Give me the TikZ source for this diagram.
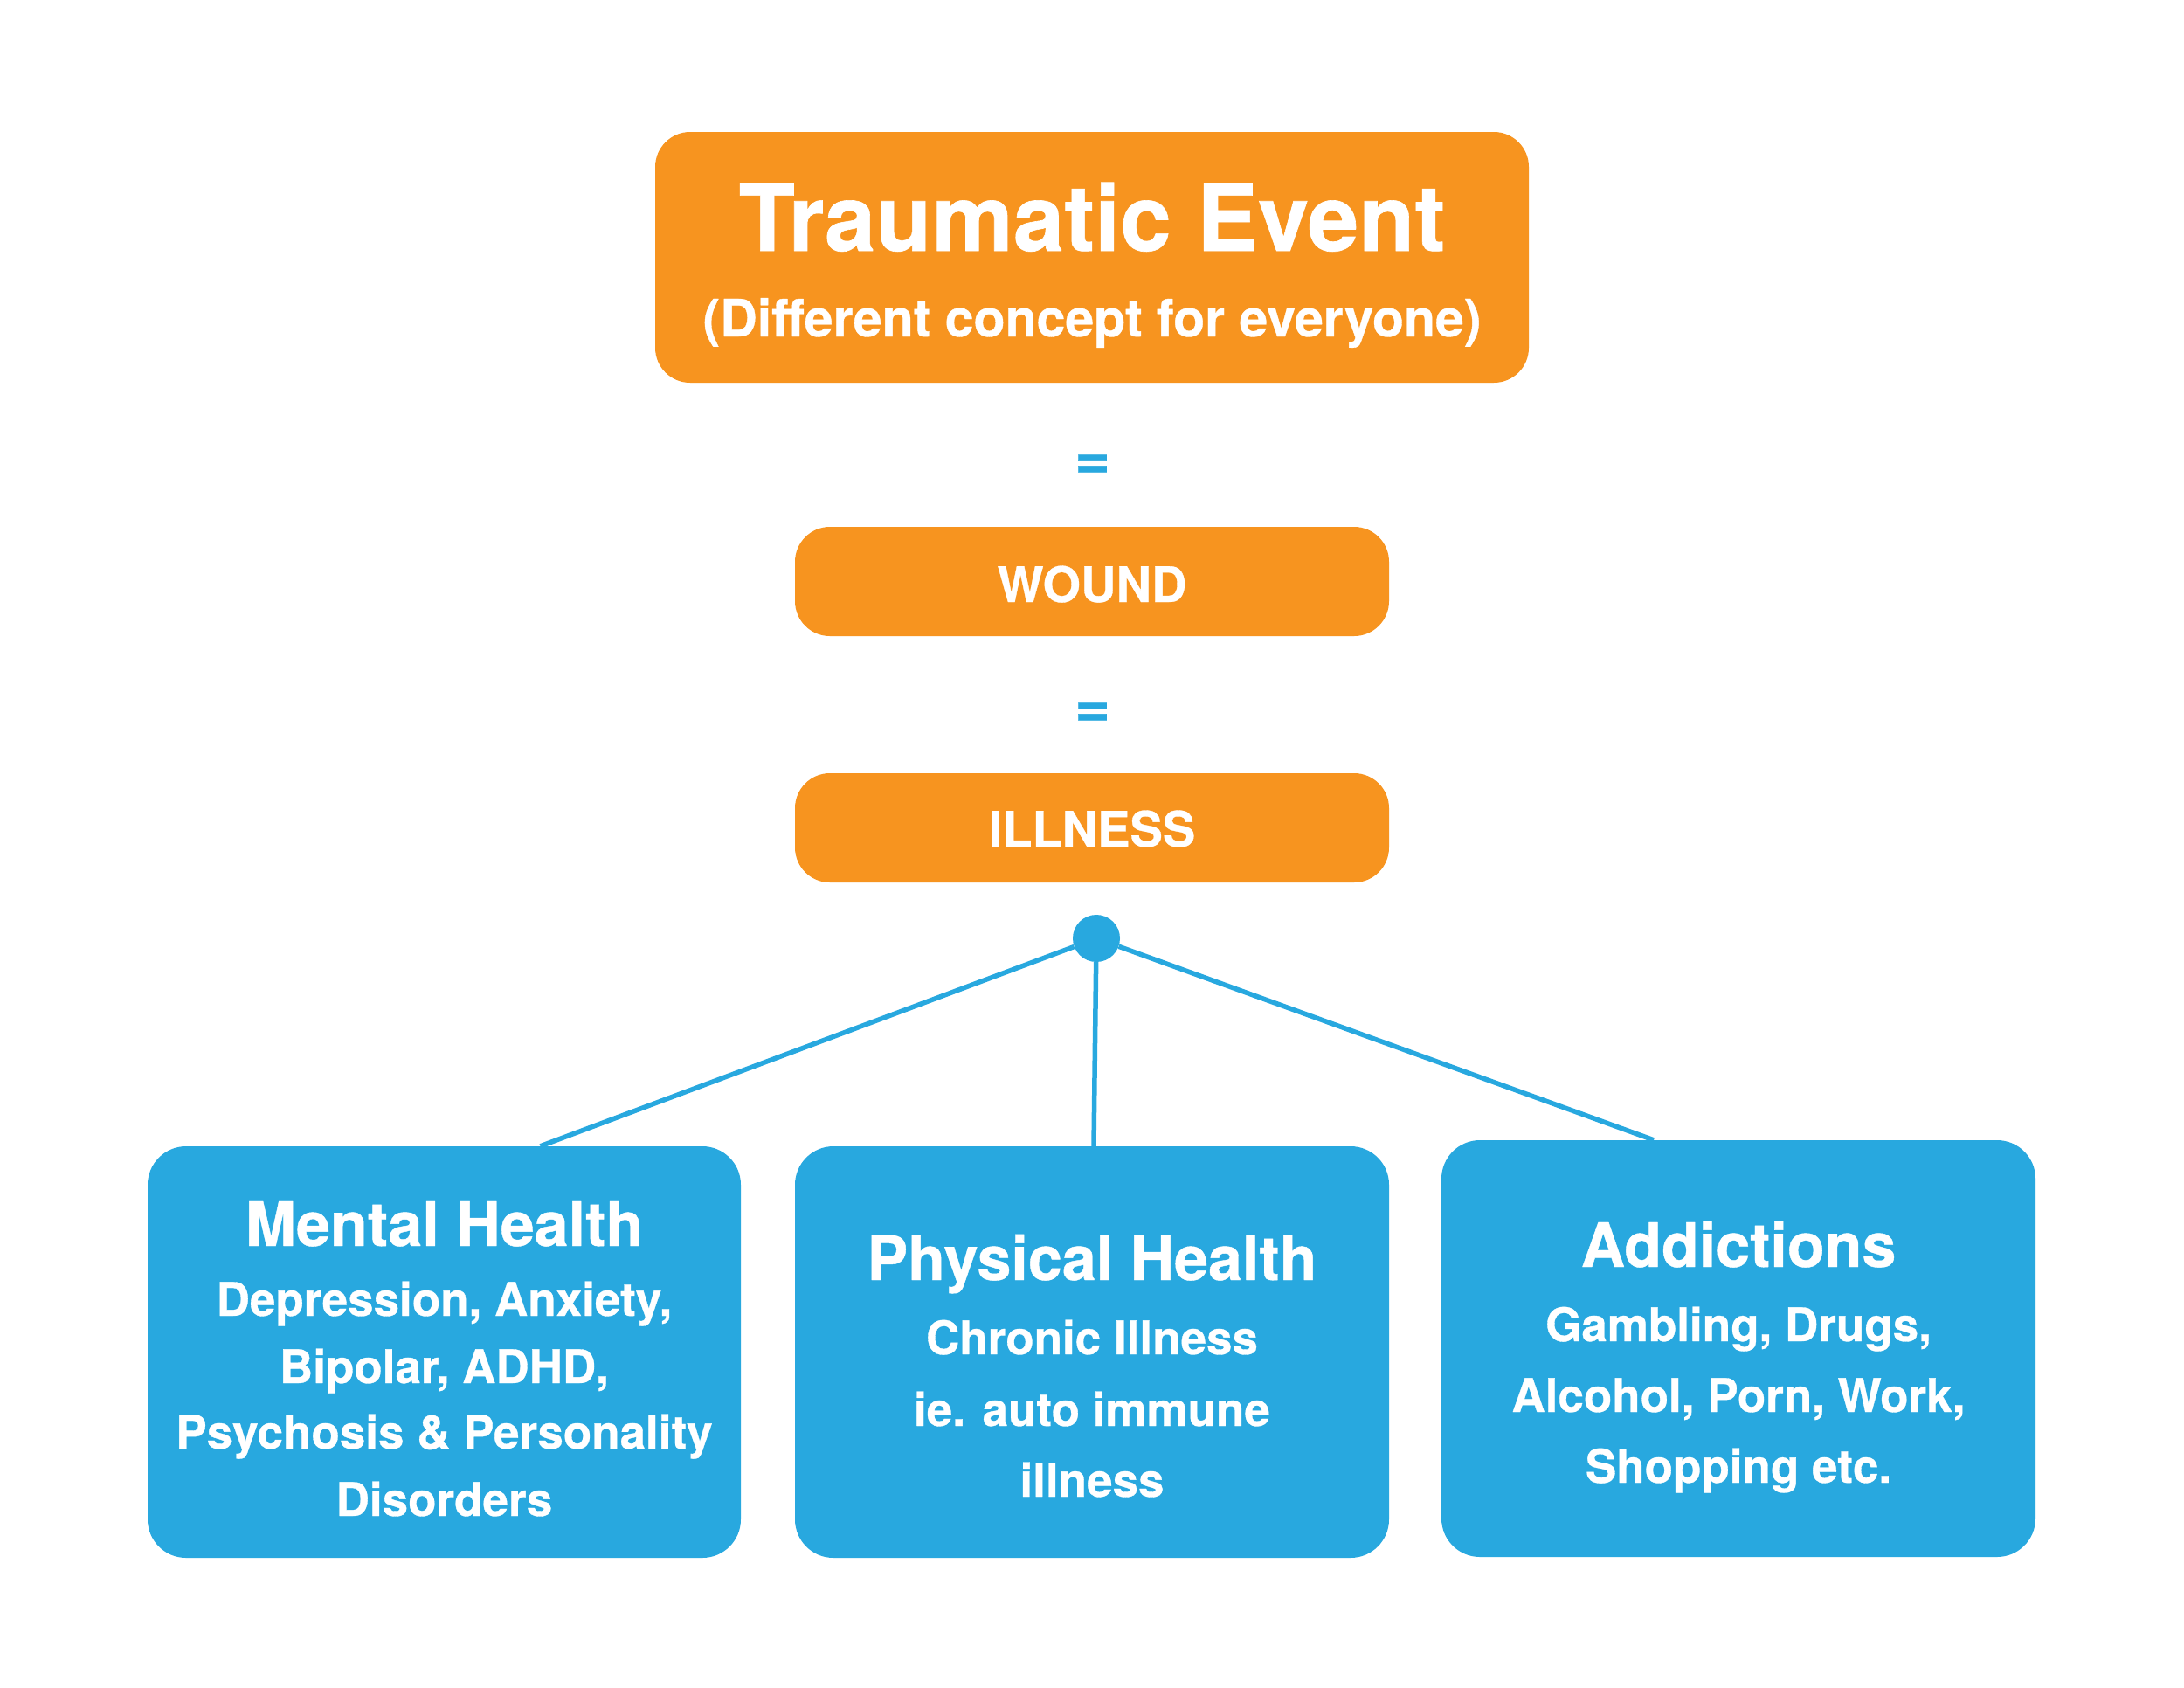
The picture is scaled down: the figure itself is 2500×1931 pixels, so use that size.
\documentclass[tikz,border=0pt]{standalone}
\usepackage{fontspec}
\setmainfont{TeX Gyre Heros}[BoldFeatures={FakeBold=0.6}]
\usetikzlibrary{calc}
\definecolor{orng}{HTML}{F7941F}
\definecolor{blu}{HTML}{28A8DF}
\begin{document}
\begin{tikzpicture}[x=1pt,y=-1pt,
  obox/.style={fill=orng, rounded corners=40pt, inner sep=0pt, draw=none},
  bbox/.style={fill=blu, rounded corners=44pt, inner sep=0pt, draw=none},
  txt/.style={text=white, anchor=base, inner sep=0pt},
  eqsign/.style={text=blu, anchor=base, inner sep=0pt, font=\bfseries\fontsize{70}{80}\selectfont},
  conn/.style={draw=blu, line width=5.5pt},
  bigT/.style={txt, font=\bfseries\fontsize{105}{110}\selectfont},
  subT/.style={txt, font=\bfseries\fontsize{59}{64}\selectfont},
  midT/.style={txt, font=\bfseries\fontsize{56}{60}\selectfont},
  headT/.style={txt, font=\bfseries\fontsize{70}{75}\selectfont},
  bodyT/.style={txt, font=\bfseries\fontsize{53}{58}\selectfont}]
\useasboundingbox[fill=white] (0,0) rectangle (2500,1931);

% orange boxes
\node[obox, minimum width=1000pt, minimum height=287pt] (trauma) at (1250,294.5) {};
\node[obox, minimum width=680pt, minimum height=125pt] (wound) at (1250,665.5) {};
\node[obox, minimum width=680pt, minimum height=125pt] (illness) at (1250,947.5) {};

\node[bigT] (traumaT) at (1250,287) {Traumatic Event};
\node[subT] (traumaS) at (1250,385) {(Different concept for everyone)};
\node[midT] (woundT) at (1250,689) {WOUND};
\node[midT] (illnessT) at (1250,969) {ILLNESS};

% equals signs
\node[eqsign] (eq1) at (1250.5,548) {=};
\node[eqsign] (eq2) at (1250.5,832) {=};

% blue boxes
\node[bbox, minimum width=679pt, minimum height=471pt] (mental) at (508.5,1547.5) {};
\node[bbox, minimum width=680pt, minimum height=471pt] (physical) at (1250,1547.5) {};
\node[bbox, minimum width=680pt, minimum height=477pt] (addict) at (1990,1543.5) {};

% hub and connectors
\node[circle, fill=blu, minimum size=54pt, inner sep=0pt] (hub) at (1255,1074) {};
\draw[conn] (hub) -- ($(mental.north)+(110,0)$);
\draw[conn] (hub) -- ($(physical.north)+(2,0)$);
\draw[conn] (hub) -- ($(addict.north)+(-97,0)$);

% mental text
\node[headT] (m1) at (508.5,1426) {Mental Health};
\node[bodyT] (m2) at (508.5,1506) {Depression, Anxiety,};
\node[bodyT] (m3) at (508.5,1583) {Bipolar, ADHD,};
\node[bodyT] (m4) at (508.5,1658) {Psychosis \& Personality};
\node[bodyT] (m5) at (508.5,1735) {Disorders};

% physical text
\node[headT] (p1) at (1250,1465) {Physical Health};
\node[bodyT] (p2) at (1250,1550) {Chronic Illness};
\node[bodyT] (p3) at (1250,1632) {ie. auto immune};
\node[bodyT] (p4) at (1250,1713) {illness};

% addictions text
\node[headT] (a1) at (1990,1450) {Addictions};
\node[bodyT] (a2) at (1990,1535) {Gambling, Drugs,};
\node[bodyT] (a3) at (1990,1616) {Alcohol, Porn, Work,};
\node[bodyT] (a4) at (1990,1697) {Shopping etc.};
\end{tikzpicture}
\end{document}
